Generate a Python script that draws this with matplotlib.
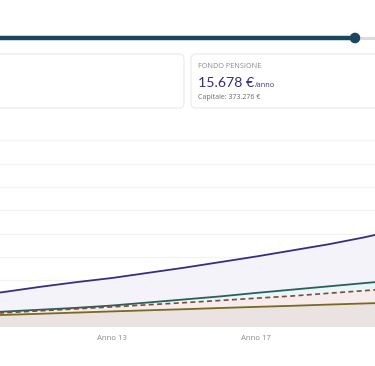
import matplotlib.pyplot as plt
from matplotlib.patches import FancyBboxPatch, Circle

plt.rcParams['font.family'] = ['Open Sans', 'DejaVu Sans']

# dati (capitale in euro per anno)
anni = [9, 10, 11, 12, 13, 14, 15, 16, 17, 18, 19, 20, 21]
fondo_pensione = [65000, 75000, 86000, 96000, 105000, 116000, 127000, 139000, 151000, 164000, 177000, 192000, 209000]
serie_verde = [29000, 33000, 37000, 41000, 46000, 52500, 59000, 65500, 73000, 80000, 87000, 94000, 101000]
serie_tratteggio = [26800, 30400, 34700, 38800, 43100, 47600, 52100, 56800, 61700, 66400, 72200, 77800, 83600]
serie_oliva = [23600, 25900, 28300, 30900, 33400, 35800, 38100, 40700, 43100, 45400, 48000, 50400, 52700]
tick_anni = [13, 17]
tick_labels = ['Anno 13', 'Anno 17']

W, H = 375, 366
fig = plt.figure(figsize=(W / 100, H / 100), dpi=100)

# overlay in pixel per slider e card
bg = fig.add_axes([0, 0, 1, 1])
bg.set_xlim(0, W)
bg.set_ylim(H, 0)
bg.axis('off')

# slider
bg.plot([0, 355], [38, 38], color='#1b4660', lw=3.2, solid_capstyle='butt')
bg.plot([360, 375], [38, 38], color='#dcdcdc', lw=2.2, solid_capstyle='butt')
bg.add_patch(Circle((355, 38), 4.6, color='#1b4660', zorder=3))

# card
for x0, x1 in [(-20, 184), (191, 395)]:
    bg.add_patch(FancyBboxPatch((x0, 54), x1 - x0, 54,
                                boxstyle='round,pad=0,rounding_size=5',
                                fc='white', ec='#ebebeb', lw=0.9))

bg.text(198, 67, 'FONDO PENSIONE', fontsize=5.2, color='#8a8a8a', va='center', ha='left')
t = bg.text(198, 87, '15.678 €', fontsize=10.2, color='#3a2d78', va='baseline', ha='left',
            family=['Lato', 'DejaVu Sans'])
fig.canvas.draw()
bb = t.get_window_extent()
bg.text(bb.x1 + 0.5, 87, '/anno', fontsize=5.2, color='#3a2d78', va='baseline', ha='left')
bg.text(198, 97.5, 'Capitale: 373.276 €', fontsize=5.0, color='#6a6a6a', va='center', ha='left')

# grafico
ax = fig.add_axes([0, (H - 327) / H, 1, 186.7 / H])
ax.patch.set_alpha(0)
ax.fill_between(anni, 0, fondo_pensione, color='#f4f3f9', lw=0)
ax.fill_between(anni, 0, serie_verde, color='#e7f6f6', lw=0)
ax.fill_between(anni, 0, serie_tratteggio, color='#f6ecec', lw=0)
ax.fill_between(anni, 0, serie_oliva, color='#ebe3e1', lw=0)
ax.plot(anni, fondo_pensione, color='#3a2d80', lw=1.3)
ax.plot(anni, serie_verde, color='#2e5e5a', lw=1.3)
ax.plot(anni, serie_tratteggio, color='#7d4a3c', lw=1.2, ls=(0, (3, 2)))
ax.plot(anni, serie_oliva, color='#786a22', lw=1.3)

ax.set_yticks(range(50000, 400001, 50000))
ax.set_yticklabels([])
ax.set_xticks(tick_anni)
ax.set_xticklabels(tick_labels, fontsize=5.6, color='#8a8a8a')
ax.set_xlim((0 + 320) / 36 + 1, (W + 320) / 36 + 1)
ax.set_ylim(0, 400000)
ax.tick_params(axis='both', length=0, pad=6)
ax.grid(axis='y', color='#f3f3f3', lw=0.9)
ax.set_axisbelow(True)
for s in ax.spines.values():
    s.set_visible(False)

fig.savefig('out.png', dpi=100)
